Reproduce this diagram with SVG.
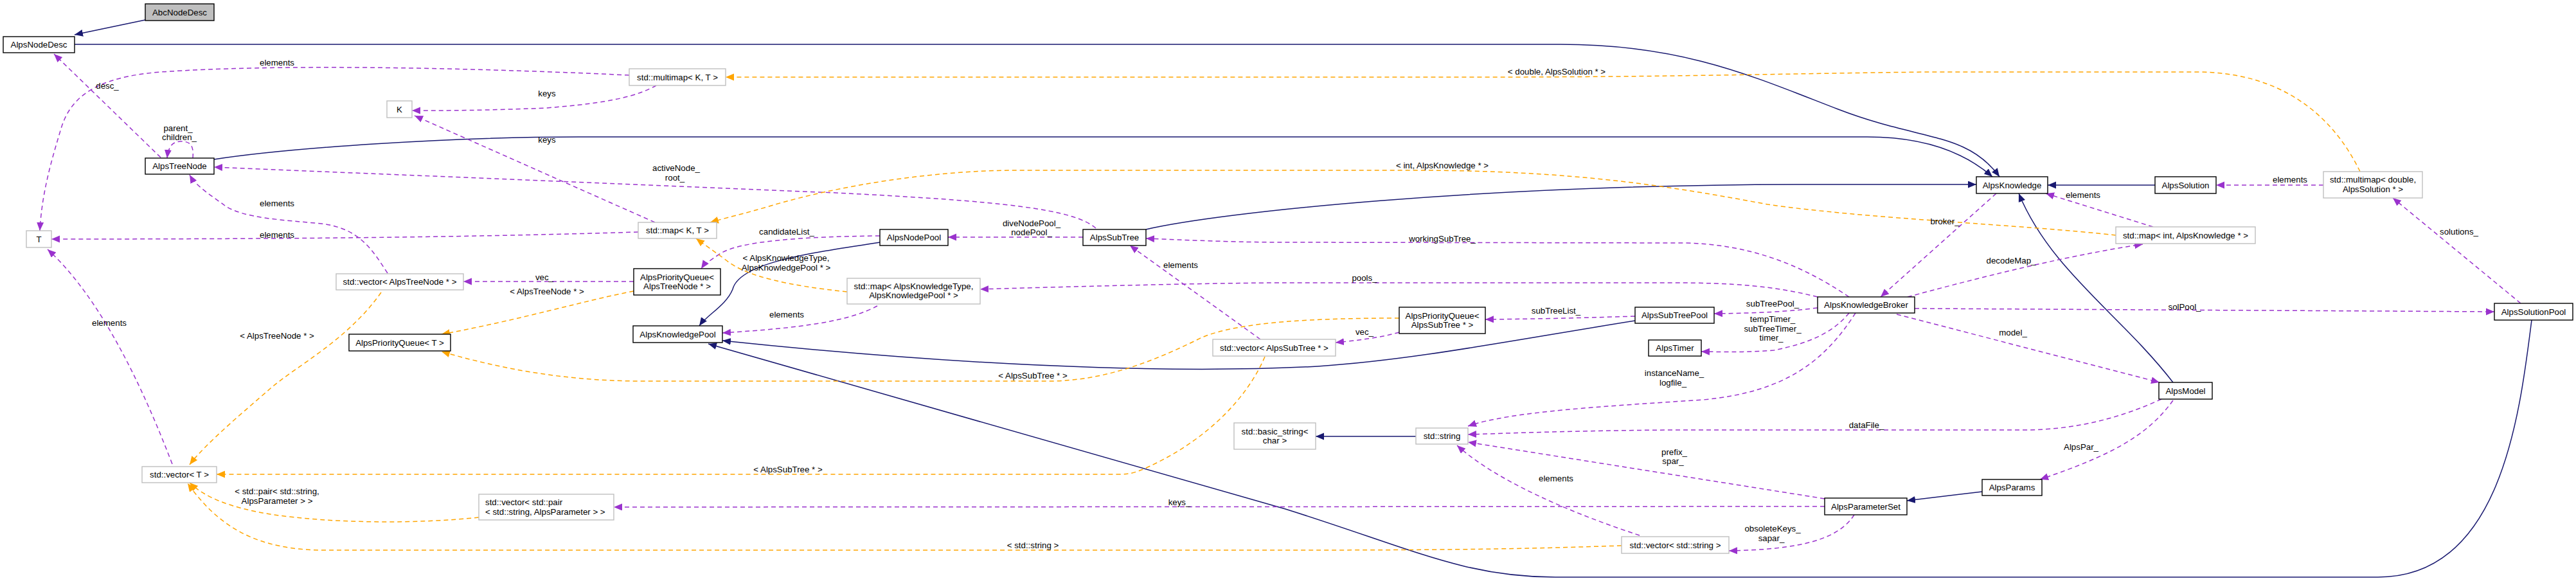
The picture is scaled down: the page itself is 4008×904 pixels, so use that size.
<svg xmlns="http://www.w3.org/2000/svg" width="4008" height="904" viewBox="0 0 4008 904">
<style>
text{font-family:"Liberation Sans",Arial,sans-serif;font-size:13.3px;fill:#000;text-anchor:middle}
.n rect{fill:#fff;stroke:#000;stroke-width:1.4}
.g rect{fill:#fff;stroke:#bfbfbf;stroke-width:1.4}
.l{text-anchor:start}
#edges path{fill:none;stroke-width:1.5}
.inh{stroke:#191970;marker-end:url(#mn)}
.use{stroke:#9a32cd;stroke-dasharray:7,5;marker-end:url(#mp)}
.tpl{stroke:#ffa500;stroke-dasharray:7,5;marker-end:url(#mo)}
</style>
<defs>
<marker id="mn" markerUnits="userSpaceOnUse" markerWidth="14" markerHeight="12" refX="13" refY="5.5" orient="auto"><path d="M0,0 L13,5.5 L0,11 z" fill="#191970"/></marker>
<marker id="mp" markerUnits="userSpaceOnUse" markerWidth="14" markerHeight="12" refX="13" refY="5.5" orient="auto"><path d="M0,0 L13,5.5 L0,11 z" fill="#9a32cd"/></marker>
<marker id="mo" markerUnits="userSpaceOnUse" markerWidth="14" markerHeight="12" refX="13" refY="5.5" orient="auto"><path d="M0,0 L13,5.5 L0,11 z" fill="#ffa500"/></marker>
</defs>
<rect width="4008" height="904" fill="#fff"/>
<g id="edges">
<path class="inh" d="M226,31 L116,54"/>
<path class="inh" d="M116,69 L2428,69 C2620,69 2730,120 2860,170 C2990,220 3060,205 3111,275"/>
<path class="inh" d="M333,248 C450,230 700,213 900,213 L2905,213 C3000,213 3060,240 3100,275"/>
<path class="inh" d="M1783,357 C1900,330 2300,288 2800,287 L3075,287"/>
<path class="inh" d="M3353,288 L3186,288"/>
<path class="inh" d="M3381,595 C3300,490 3190,420 3141,301"/>
<path class="inh" d="M1369,377 C1250,395 1150,410 1140,450 C1130,475 1100,490 1088,507"/>
<path class="inh" d="M2544,499 C2350,530 2200,560 2050,570 C1900,578 1600,580 1124,530"/>
<path class="inh" d="M3939,498 C3920,650 3890,898 3700,898 L2420,898 C2280,898 2200,855 2000,792 L1102,535"/>
<path class="inh" d="M3084,765 L2967,779"/>
<path class="inh" d="M2203,679 L2047,679"/>
<path class="use" d="M250,245 L84,84"/>
<path class="use" d="M300,246 C302,225 295,220 282,220 C268,220 262,228 260,246"/>
<path class="use" d="M979,117 C700,104 420,100 250,112 C150,120 110,150 95,200 C80,250 65,300 62,359"/>
<path class="use" d="M1021,133 C990,150 950,160 850,168 C750,172 700,172 641,172"/>
<path class="use" d="M1019,346 L645,180"/>
<path class="use" d="M1705,355 C1670,325 1560,313 1300,300 L333,260"/>
<path class="use" d="M603,425 C580,390 560,355 500,348 C440,342 380,340 350,320 C330,305 305,290 295,272"/>
<path class="use" d="M993,361 C700,370 400,372 80,372"/>
<path class="use" d="M986,438 L721,438"/>
<path class="use" d="M1369,367 C1250,368 1150,375 1120,395 C1105,405 1095,412 1091,418"/>
<path class="use" d="M1685,369 L1475,369"/>
<path class="use" d="M1365,476 C1320,500 1250,510 1124,518"/>
<path class="use" d="M1961,528 L1758,382"/>
<path class="use" d="M2877,462 C2800,410 2720,380 2620,378 L2000,377 C1950,377 1900,376 1783,371"/>
<path class="use" d="M2828,462 C2760,445 2700,440 2600,440 L2000,440 C1900,440 1700,445 1525,450"/>
<path class="use" d="M2828,479 C2780,485 2740,487 2667,488"/>
<path class="use" d="M2544,492 C2450,495 2400,496 2311,497"/>
<path class="use" d="M2177,517 C2150,525 2110,530 2078,533"/>
<path class="use" d="M2877,487 C2850,520 2810,535 2760,545 C2720,548 2690,548 2647,547"/>
<path class="use" d="M2887,487 C2840,560 2780,610 2650,622 C2500,632 2350,640 2284,663"/>
<path class="use" d="M3363,621 C3300,650 3230,669 3148,669 L2600,669 C2450,670 2350,674 2284,676"/>
<path class="use" d="M2839,776 L2284,688"/>
<path class="use" d="M2551,833 C2450,800 2330,750 2267,693"/>
<path class="use" d="M2885,801 C2860,840 2800,855 2690,857"/>
<path class="use" d="M2839,788 L955,789"/>
<path class="use" d="M3106,301 L2926,462"/>
<path class="use" d="M2968,462 C3050,440 3200,400 3334,380"/>
<path class="use" d="M3350,353 L3183,301"/>
<path class="use" d="M2979,480 L3881,485"/>
<path class="use" d="M2951,489 L3360,595"/>
<path class="use" d="M3381,623 C3340,680 3280,710 3174,746"/>
<path class="use" d="M3922,472 L3723,308"/>
<path class="use" d="M3615,288 L3448,288"/>
<path class="use" d="M268,722 Q175,480 74,388"/>
<path class="tpl" d="M3672,267 C3630,180 3550,112 3418,112 L3000,112 C2800,114 2600,120 2300,120 L1129,120"/>
<path class="tpl" d="M3292,366 C3150,350 2900,340 2750,318 C2600,290 2450,265 2200,265 L1580,265 C1450,265 1300,290 1200,320 C1160,332 1125,340 1105,346"/>
<path class="tpl" d="M1318,454 C1230,445 1160,430 1130,405 C1110,390 1095,380 1083,371"/>
<path class="tpl" d="M986,453 C920,465 800,500 687,520"/>
<path class="tpl" d="M2177,495 C2050,495 1930,500 1870,525 C1800,560 1720,593 1631,593 L1000,593 C900,593 800,580 687,547"/>
<path class="tpl" d="M593,455 C540,530 460,570 420,605 C380,640 320,690 295,723"/>
<path class="tpl" d="M1968,555 C1940,620 1880,680 1800,720 C1770,735 1760,738 1740,738 L337,738"/>
<path class="tpl" d="M745,805 C650,815 520,815 420,800 C360,790 320,775 295,751"/>
<path class="tpl" d="M2523,849 C2400,853 2300,856 2000,856 L505,856 C400,856 340,820 292,752"/>
</g>
<g id="labels">
<text x="431" y="102">elements</text>
<text x="167" y="138">desc_</text>
<text x="851" y="150">keys</text>
<text x="277" y="204">parent_</text>
<text x="279" y="218">children_</text>
<text x="851" y="222">keys</text>
<text x="1052" y="266">activeNode_</text>
<text x="1050" y="281">root_</text>
<text x="431" y="321">elements</text>
<text x="431" y="370">elements</text>
<text x="847" y="436">vec_</text>
<text x="851" y="458">&lt; AlpsTreeNode * &gt;</text>
<text x="431" y="527">&lt; AlpsTreeNode * &gt;</text>
<text x="170" y="507">elements</text>
<text x="431" y="769">&lt; std::pair&lt; std::string,</text>
<text x="431" y="784">AlpsParameter &gt; &gt;</text>
<text x="1605" y="352">diveNodePool_</text>
<text x="1605" y="366">nodePool_</text>
<text x="1224" y="365">candidateList_</text>
<text x="1223" y="406">&lt; AlpsKnowledgeType,</text>
<text x="1223" y="421">AlpsKnowledgePool * &gt;</text>
<text x="1224" y="494">elements</text>
<text x="1837" y="417">elements</text>
<text x="1607" y="589">&lt; AlpsSubTree * &gt;</text>
<text x="1226" y="735">&lt; AlpsSubTree * &gt;</text>
<text x="1835" y="786">keys_</text>
<text x="1607" y="853">&lt; std::string &gt;</text>
<text x="2422" y="116">&lt; double, AlpsSolution * &gt;</text>
<text x="2244" y="262">&lt; int, AlpsKnowledge * &gt;</text>
<text x="2244" y="376">workingSubTree_</text>
<text x="2123" y="437">pools_</text>
<text x="2421" y="488">subTreeList_</text>
<text x="2123" y="521">vec_</text>
<text x="2758" y="477">subTreePool_</text>
<text x="2758" y="501">tempTimer_</text>
<text x="2758" y="516">subTreeTimer_</text>
<text x="2756" y="530">timer_</text>
<text x="2605" y="585">instanceName_</text>
<text x="2603" y="600">logfile_</text>
<text x="3026" y="349">broker_</text>
<text x="2904" y="666">dataFile_</text>
<text x="2605" y="708">prefix_</text>
<text x="2603" y="722">spar_</text>
<text x="2421" y="749">elements</text>
<text x="2758" y="827">obsoleteKeys_</text>
<text x="2756" y="842">sapar_</text>
<text x="3563" y="284">elements</text>
<text x="3241" y="308">elements</text>
<text x="3129" y="410">decodeMap_</text>
<text x="3826" y="365">solutions_</text>
<text x="3399" y="482">solPool_</text>
<text x="3132" y="522">model_</text>
<text x="3238" y="700">AlpsPar_</text>
</g>
<g id="AbcNodeDesc" class="n"><rect x="226" y="6" width="107" height="26" style="fill:#bfbfbf"/><text x="279.5" y="24">AbcNodeDesc</text></g>
<g id="AlpsNodeDesc" class="n"><rect x="5" y="57" width="111" height="25"/><text x="60.5" y="74">AlpsNodeDesc</text></g>
<g id="multimapKT" class="g"><rect x="979" y="107" width="150" height="26"/><text x="1054" y="125">std::multimap&lt; K, T &gt;</text></g>
<g id="K" class="g"><rect x="602" y="157" width="39" height="26"/><text x="621.5" y="175">K</text></g>
<g id="AlpsTreeNode" class="n"><rect x="226" y="246" width="107" height="25"/><text x="279.5" y="263">AlpsTreeNode</text></g>
<g id="T" class="g"><rect x="41" y="359" width="39" height="26"/><text x="60.5" y="377">T</text></g>
<g id="mapKT" class="g"><rect x="993" y="346" width="122" height="25"/><text x="1054" y="363">std::map&lt; K, T &gt;</text></g>
<g id="vecTreeNode" class="g"><rect x="523" y="426" width="198" height="25"/><text x="622" y="443">std::vector&lt; AlpsTreeNode * &gt;</text></g>
<g id="pqTreeNode" class="n"><rect x="986" y="418" width="135" height="41"/><text x="1053.5" y="436">AlpsPriorityQueue&lt;</text><text x="1053.5" y="450">AlpsTreeNode * &gt;</text></g>
<g id="pqT" class="n"><rect x="543" y="520" width="158" height="26"/><text x="622" y="538">AlpsPriorityQueue&lt; T &gt;</text></g>
<g id="AlpsKnowledgePool" class="n"><rect x="985" y="507" width="139" height="26"/><text x="1054.5" y="525">AlpsKnowledgePool</text></g>
<g id="vecT" class="g"><rect x="221" y="726" width="116" height="25"/><text x="279" y="743">std::vector&lt; T &gt;</text></g>
<g id="vecPair" class="g"><rect x="745" y="769" width="210" height="40"/><text class="l" x="755" y="786">std::vector&lt; std::pair</text><text class="l" x="755" y="801">&lt; std::string, AlpsParameter &gt; &gt;</text></g>
<g id="AlpsNodePool" class="n"><rect x="1369" y="357" width="106" height="25"/><text x="1422" y="374">AlpsNodePool</text></g>
<g id="AlpsSubTree" class="n"><rect x="1685" y="357" width="98" height="25"/><text x="1734" y="374">AlpsSubTree</text></g>
<g id="mapKnowledgeType" class="g"><rect x="1318" y="433" width="207" height="40"/><text x="1421.5" y="450">std::map&lt; AlpsKnowledgeType,</text><text x="1421.5" y="464">AlpsKnowledgePool * &gt;</text></g>
<g id="vecSubTree" class="g"><rect x="1887" y="528" width="191" height="26"/><text x="1982.5" y="546">std::vector&lt; AlpsSubTree * &gt;</text></g>
<g id="basicString" class="g"><rect x="1920" y="658" width="127" height="41"/><text x="1983.5" y="676">std::basic_string&lt;</text><text x="1983.5" y="690">char &gt;</text></g>
<g id="stdString" class="g"><rect x="2203" y="666" width="81" height="25"/><text x="2243.5" y="683">std::string</text></g>
<g id="pqSubTree" class="n"><rect x="2177" y="478" width="134" height="41"/><text x="2244" y="496">AlpsPriorityQueue&lt;</text><text x="2244" y="510">AlpsSubTree * &gt;</text></g>
<g id="AlpsSubTreePool" class="n"><rect x="2544" y="478" width="123" height="25"/><text x="2605.5" y="495">AlpsSubTreePool</text></g>
<g id="AlpsTimer" class="n"><rect x="2565" y="529" width="82" height="25"/><text x="2606" y="546">AlpsTimer</text></g>
<g id="AlpsKnowledgeBroker" class="n"><rect x="2828" y="462" width="151" height="25"/><text x="2903.5" y="479">AlpsKnowledgeBroker</text></g>
<g id="AlpsParameterSet" class="n"><rect x="2839" y="775" width="128" height="26"/><text x="2903" y="793">AlpsParameterSet</text></g>
<g id="vecString" class="g"><rect x="2523" y="835" width="167" height="26"/><text x="2606.5" y="853">std::vector&lt; std::string &gt;</text></g>
<g id="AlpsKnowledge" class="n"><rect x="3075" y="275" width="111" height="26"/><text x="3130.5" y="293">AlpsKnowledge</text></g>
<g id="AlpsSolution" class="n"><rect x="3353" y="275" width="95" height="26"/><text x="3400.5" y="293">AlpsSolution</text></g>
<g id="multimapDouble" class="g"><rect x="3615" y="267" width="154" height="41"/><text x="3692" y="284">std::multimap&lt; double,</text><text x="3692" y="299">AlpsSolution * &gt;</text></g>
<g id="mapInt" class="g"><rect x="3292" y="353" width="217" height="26"/><text x="3400.5" y="371">std::map&lt; int, AlpsKnowledge * &gt;</text></g>
<g id="AlpsSolutionPool" class="n"><rect x="3881" y="472" width="122" height="26"/><text x="3942" y="490">AlpsSolutionPool</text></g>
<g id="AlpsModel" class="n"><rect x="3359" y="595" width="83" height="26"/><text x="3400.5" y="613">AlpsModel</text></g>
<g id="AlpsParams" class="n"><rect x="3084" y="746" width="93" height="25"/><text x="3130.5" y="763">AlpsParams</text></g>
</svg>
